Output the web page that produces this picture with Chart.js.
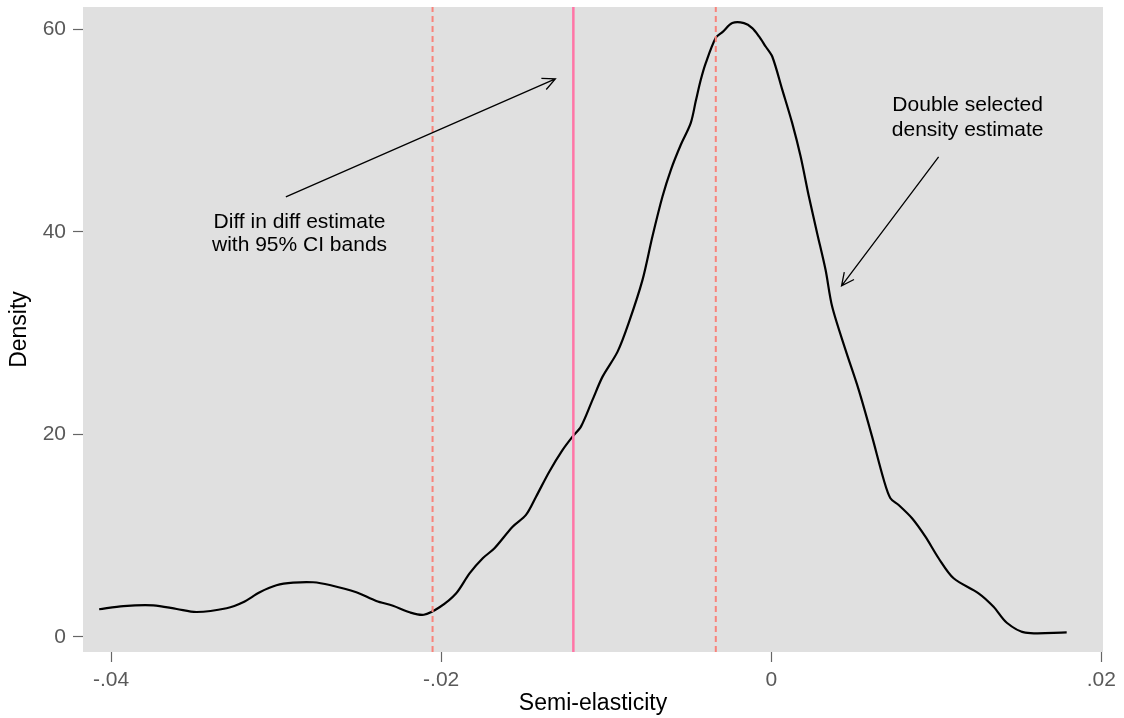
<!DOCTYPE html>
<html>
<head>
<meta charset="utf-8">
<title>Density of semi-elasticity</title>
<script src="https://cdn.jsdelivr.net/npm/chart.js@4"></script>
<style>
  html, body { margin: 0; padding: 0; background: #fff; }
  #wrap { width: 1124px; height: 718px; }
</style>
</head>
<body>
<div id="wrap"><canvas id="densityChart" width="1124" height="718"></canvas></div>
<script>
// density curve
const semiElasticity = [
  -0.04072, -0.03925, -0.03744, -0.03602, -0.03482, -0.03300, -0.03200, -0.03099,
  -0.02998, -0.02897, -0.02776, -0.02675, -0.02514, -0.02393, -0.02292, -0.02191,
  -0.02105, -0.02010, -0.01910, -0.01828, -0.01748, -0.01677, -0.01567, -0.01486,
  -0.01425, -0.01345, -0.01264, -0.01204, -0.01153, -0.01083, -0.01022, -0.00931,
  -0.00861, -0.00780, -0.00720, -0.00659, -0.00608, -0.00548, -0.00488, -0.00457,
  -0.00427, -0.00397, -0.00336, -0.00296, -0.00236, -0.00165, -0.00115, -0.00074,
  -0.00034, 0.00006, 0.00067, 0.00127, 0.00178, 0.00228, 0.00278, 0.00329,
  0.00369, 0.00450, 0.00530, 0.00611, 0.00682, 0.00722, 0.00772, 0.00853,
  0.00934, 0.01014, 0.01105, 0.01256, 0.01347, 0.01427, 0.01539, 0.01790
];
const density = [
  2.71, 3.03, 3.10, 2.74, 2.44, 2.81, 3.40, 4.39,
  5.08, 5.34, 5.38, 5.11, 4.39, 3.53, 3.06, 2.41,
  2.17, 2.91, 4.27, 6.26, 7.75, 8.74, 10.87, 12.03,
  13.83, 16.30, 18.45, 19.76, 20.75, 23.39, 25.69, 28.16,
  31.13, 35.25, 39.53, 43.48, 46.12, 48.59, 50.73, 52.93,
  55.01, 56.66, 59.16, 59.72, 60.61, 60.61, 60.12, 59.29,
  58.30, 57.31, 54.02, 50.73, 47.43, 43.48, 39.86, 36.24,
  32.61, 28.33, 24.38, 19.76, 15.48, 13.68, 13.01, 11.70,
  9.88, 7.75, 5.77, 4.29, 2.96, 1.38, 0.40, 0.43
];

// diff in diff estimate and 95% CI bands
const ddEstimate = -0.01199;
const ciBands = [-0.02052, -0.00336];

const xTicks = [-0.04, -0.02, 0, 0.02];
const xTickLabels = ['-.04', '-.02', '0', '.02'];
const yTicks = [0, 20, 40, 60];

const xMin = -0.0417, xMax = 0.0201;
const yMin = -1.51, yMax = 62.2;

// annotation text and arrows, in data units
const notes = [
  { lines: ['Diff in diff estimate', 'with 95% CI bands'], x: -0.02858, y: [40.93, 38.71],
    arrow: { from: [-0.02941, 43.45], to: [-0.01308, 55.1] } },
  { lines: ['Double selected', 'density estimate'], x: 0.01190, y: [52.46, 50.04],
    arrow: { from: [0.01014, 47.4], to: [0.00426, 34.65] } }
];

const FONT = '"Liberation Sans", Arial, Helvetica, sans-serif';

const curvePoints = semiElasticity.map((x, i) => ({ x, y: density[i] }));
const vline = v => [{ x: v, y: yMin }, { x: v, y: yMax }];

const plotBackground = {
  id: 'plotBackground',
  beforeDraw(chart) {
    const { ctx, chartArea: a } = chart;
    ctx.save();
    ctx.fillStyle = '#e0e0e0';
    ctx.fillRect(a.left, a.top, a.right - a.left, a.bottom - a.top);
    ctx.restore();
  }
};

const annotations = {
  id: 'annotations',
  afterDatasetsDraw(chart) {
    const { ctx, scales: { x, y } } = chart;
    ctx.save();
    ctx.fillStyle = '#000';
    ctx.strokeStyle = '#000';
    ctx.lineWidth = 1.3;
    ctx.font = '21px ' + FONT;
    ctx.textAlign = 'center';
    ctx.textBaseline = 'middle';
    notes.forEach(n => {
      n.lines.forEach((t, i) => {
        ctx.fillText(t, x.getPixelForValue(n.x), y.getPixelForValue(n.y[i]));
      });
      const x1 = x.getPixelForValue(n.arrow.from[0]), y1 = y.getPixelForValue(n.arrow.from[1]);
      const x2 = x.getPixelForValue(n.arrow.to[0]), y2 = y.getPixelForValue(n.arrow.to[1]);
      const ang = Math.atan2(y2 - y1, x2 - x1);
      const head = 14, spread = Math.PI / 7;
      ctx.beginPath();
      ctx.moveTo(x1, y1);
      ctx.lineTo(x2, y2);
      ctx.moveTo(x2 - head * Math.cos(ang - spread), y2 - head * Math.sin(ang - spread));
      ctx.lineTo(x2, y2);
      ctx.lineTo(x2 - head * Math.cos(ang + spread), y2 - head * Math.sin(ang + spread));
      ctx.stroke();
    });
    ctx.restore();
  }
};

const ctx = document.getElementById('densityChart').getContext('2d');
new Chart(ctx, {
  type: 'scatter',
  data: {
    datasets: [
      {
        label: 'CI lower',
        data: vline(ciBands[0]),
        showLine: true,
        borderColor: '#f8837b',
        borderWidth: 2,
        borderDash: [6, 4],
        pointRadius: 0
      },
      {
        label: 'CI upper',
        data: vline(ciBands[1]),
        showLine: true,
        borderColor: '#f8837b',
        borderWidth: 2,
        borderDash: [6, 4],
        pointRadius: 0
      },
      {
        label: 'Diff in diff',
        data: vline(ddEstimate),
        showLine: true,
        borderColor: '#ff75a6',
        borderWidth: 2.5,
        pointRadius: 0
      },
      {
        label: 'Density',
        data: curvePoints,
        showLine: true,
        borderColor: '#000',
        borderWidth: 2.2,
        tension: 0.3,
        pointRadius: 0
      }
    ]
  },
  options: {
    responsive: false,
    animation: false,
    layout: { padding: { top: 7, right: 21, left: 0, bottom: 0 } },
    plugins: {
      legend: { display: false },
      tooltip: { enabled: false }
    },
    scales: {
      x: {
        type: 'linear',
        min: xMin,
        max: xMax,
        afterFit: s => { s.height = 66; },
        afterBuildTicks: s => { s.ticks = xTicks.map(v => ({ value: v })); },
        border: { display: false },
        grid: { drawOnChartArea: false, tickLength: 10, tickColor: '#666', tickWidth: 1.2 },
        ticks: {
          color: '#595959',
          font: { family: FONT, size: 21 },
          padding: 6,
          maxRotation: 0,
          callback: v => xTickLabels[xTicks.indexOf(v)]
        },
        title: {
          display: true,
          text: 'Semi-elasticity',
          color: '#000',
          font: { family: FONT, size: 23 },
          padding: { top: 0, bottom: 1 }
        }
      },
      y: {
        type: 'linear',
        min: yMin,
        max: yMax,
        afterFit: s => { s.width = 83; s.paddingTop = 0; s.paddingBottom = 0; },
        afterBuildTicks: s => { s.ticks = yTicks.map(v => ({ value: v })); },
        border: { display: false },
        grid: { drawOnChartArea: false, tickLength: 10, tickColor: '#666', tickWidth: 1.2 },
        ticks: {
          color: '#595959',
          font: { family: FONT, size: 21 },
          padding: 7
        },
        title: {
          display: true,
          text: 'Density',
          color: '#000',
          font: { family: FONT, size: 23 },
          padding: { top: 6, bottom: 0 }
        }
      }
    }
  },
  plugins: [plotBackground, annotations]
});
</script>
</body>
</html>
